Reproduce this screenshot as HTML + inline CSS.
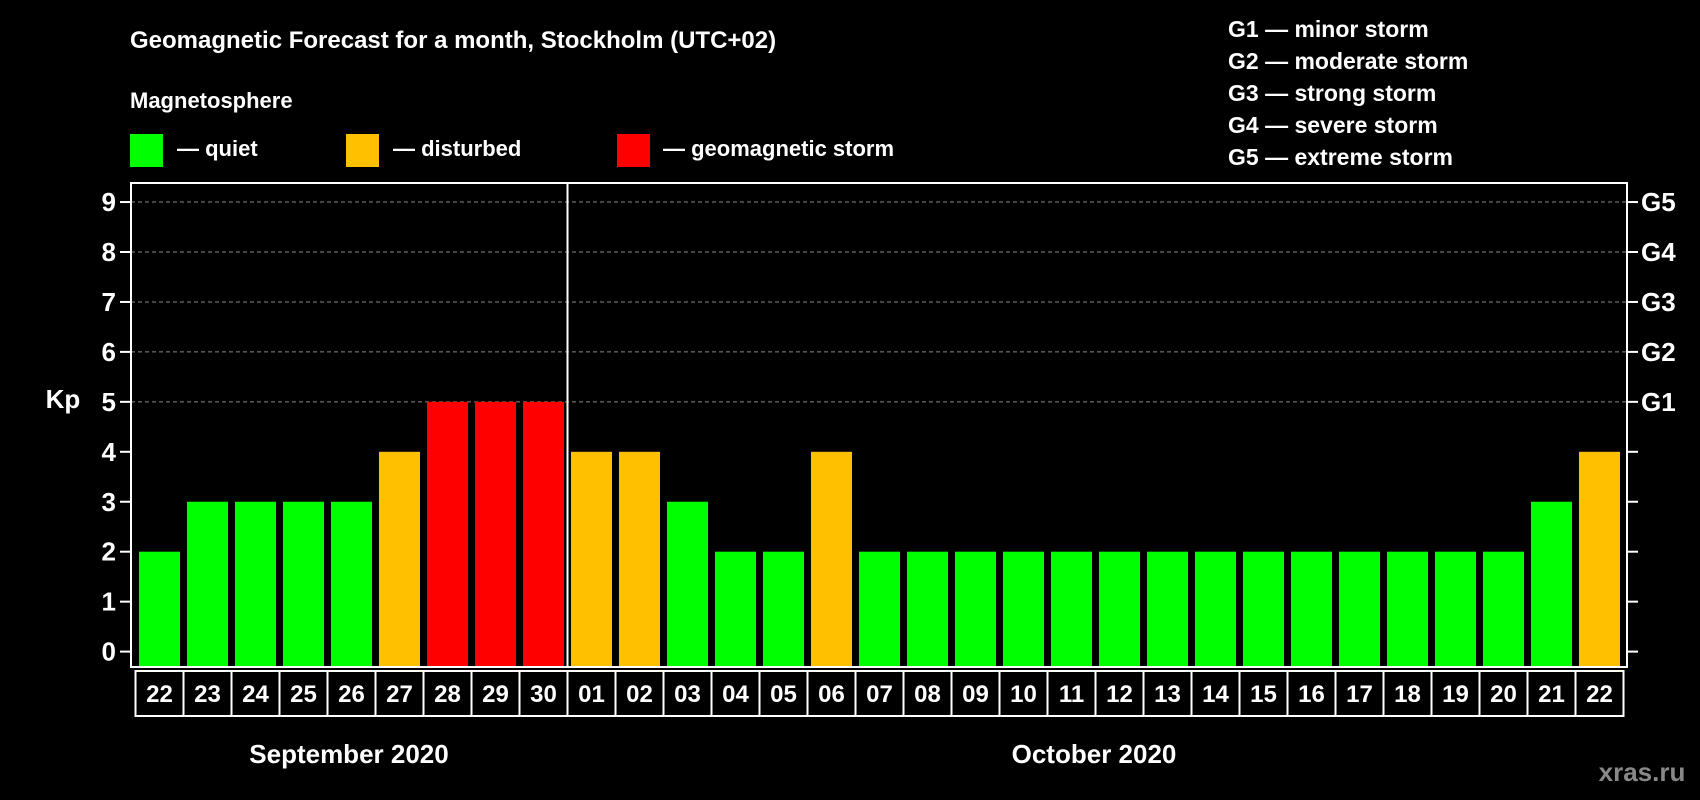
<!DOCTYPE html>
<html><head><meta charset="utf-8"><style>
html,body{margin:0;padding:0;background:#000;}
svg{display:block;font-family:"Liberation Sans",Arial,sans-serif;font-weight:bold;}
</style></head><body>
<svg id="chart" width="1700" height="800" viewBox="0 0 1700 800">
<text x="130" y="48" fill="#fff" font-size="24">Geomagnetic Forecast for a month, Stockholm (UTC+02)</text>
<text x="130" y="108" fill="#fff" font-size="22">Magnetosphere</text>
<g><rect x="130" y="134" width="33" height="33" fill="#00ff00"/><text x="177" y="156" fill="#fff" font-size="22">— quiet</text></g>
<g><rect x="346" y="134" width="33" height="33" fill="#ffc000"/><text x="393" y="156" fill="#fff" font-size="22">— disturbed</text></g>
<g><rect x="617" y="134" width="33" height="33" fill="#ff0000"/><text x="663" y="156" fill="#fff" font-size="22">— geomagnetic storm</text></g>
<g fill="#fff" font-size="23">
<text x="1228" y="37">G1 — minor storm</text>
<text x="1228" y="69">G2 — moderate storm</text>
<text x="1228" y="101">G3 — strong storm</text>
<text x="1228" y="133">G4 — severe storm</text>
<text x="1228" y="165">G5 — extreme storm</text>
</g>
<text x="63" y="408" fill="#fff" font-size="26" text-anchor="middle">Kp</text>
<g id="grid"></g><g id="bars"></g><g id="axes"></g><g id="xlabels"></g>
<text x="349" y="763" fill="#fff" font-size="26" text-anchor="middle">September 2020</text>
<text x="1094" y="763" fill="#fff" font-size="26" text-anchor="middle">October 2020</text>
<text x="1642" y="781" fill="#888" font-size="26" text-anchor="middle">xras.ru</text>
</svg>
<script>
const days = ["22","23","24","25","26","27","28","29","30","01","02","03","04","05","06","07","08","09","10","11","12","13","14","15","16","17","18","19","20","21","22"];
const kpValues = [2,3,3,3,3,4,5,5,5,4,4,3,2,2,4,2,2,2,2,2,2,2,2,2,2,2,2,2,2,3,4];
const yTicks = [0,1,2,3,4,5,6,7,8,9];
const gLabels = ["G1","G2","G3","G4","G5"];
const NS="http://www.w3.org/2000/svg";
const L=131,R=1627,T=183,B=667,C0=135.5,CW=48;
const y=v=>651.6-v*49.95;
const xc=i=>C0+CW*i;
function mk(t,a,p){const e=document.createElementNS(NS,t);for(const k in a)e.setAttribute(k,a[k]);p.appendChild(e);return e;}
const grid=document.getElementById('grid'),bars=document.getElementById('bars'),axes=document.getElementById('axes'),xl=document.getElementById('xlabels');
yTicks.forEach(v=>{
 if(v>=5){const g=mk('line',{x1:L,x2:R,y1:y(v),y2:y(v),stroke:'#888','stroke-dasharray':'4,3','stroke-width':1},grid);
 
 }
 const t=mk('line',{x1:L-11,x2:L,y1:y(v),y2:y(v),stroke:'#fff','stroke-width':2},axes);
 
 
 const t2=mk('line',{x1:R,x2:R+11,y1:y(v),y2:y(v),stroke:'#fff','stroke-width':2},axes);
 
 
 const lb=mk('text',{x:116,y:y(v)+9,fill:'#fff','font-size':26,'text-anchor':'end'},axes);lb.textContent=v;
 
 
});
gLabels.forEach((g,i)=>{const lb=mk('text',{x:1641,y:y(5+i)+9,fill:'#fff','font-size':26},axes);lb.textContent=g;
 
 });
kpValues.forEach((v,i)=>{
 const col=v>=5?'#ff0000':(v>=4?'#ffc000':'#00ff00');
 const r=mk('rect',{x:xc(i)+3.5,y:y(v),width:41,height:y(0)-y(v)+15,fill:col},bars);
 
 
 const c=mk('rect',{x:xc(i),y:671,width:CW,height:45,fill:'none',stroke:'#fff','stroke-width':2},xl);
 
 
 const t=mk('text',{x:xc(i)+CW/2,y:702,fill:'#fff','font-size':24,'text-anchor':'middle'},xl);t.textContent=days[i];
 
 
});
const f=mk('rect',{x:L,y:T,width:R-L,height:B-T,fill:'none',stroke:'#fff','stroke-width':2},axes);


const sep=mk('line',{x1:xc(9),x2:xc(9),y1:T,y2:B,stroke:'#fff','stroke-width':2},axes);


</script>
</body></html>
